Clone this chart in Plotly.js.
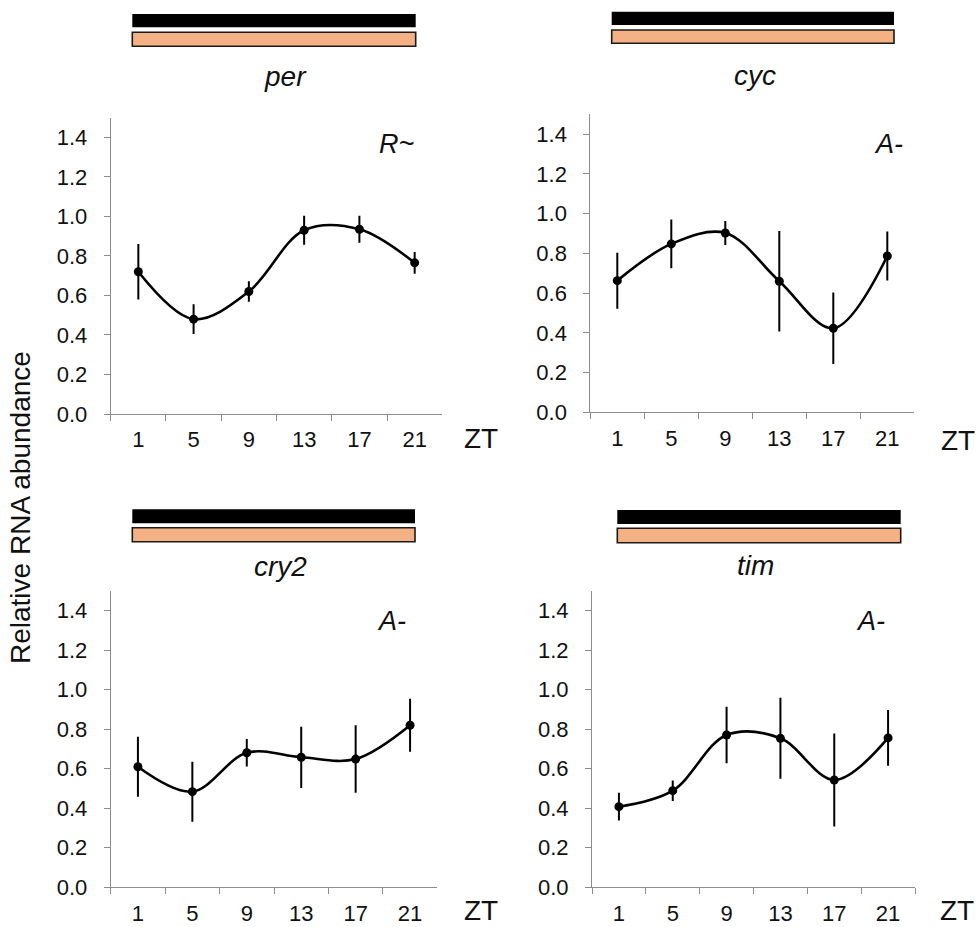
<!DOCTYPE html>
<html>
<head>
<meta charset="utf-8">
<script src="https://cdn.plot.ly/plotly-3.0.1.min.js"></script>
<style>html,body{margin:0;padding:0;background:#fff;}#chart{width:977px;height:927px;}</style>
</head>
<body>
<div id="chart"></div>
<script>
// ---- data ----
const ztLabels = ["1", "5", "9", "13", "17", "21"];
const genes = ["per", "cyc", "cry2", "tim"];
const rhythmCodes = ["R~", "A-", "A-", "A-"];

const perMean = [0.72, 0.48, 0.62, 0.93, 0.935, 0.765];
const perErr  = [0.14, 0.075, 0.052, 0.073, 0.068, 0.055];
const cycMean = [0.663, 0.848, 0.903, 0.66, 0.423, 0.787];
const cycErr  = [0.141, 0.123, 0.06, 0.253, 0.18, 0.123];
const cry2Mean = [0.61, 0.484, 0.681, 0.658, 0.649, 0.82];
const cry2Err  = [0.152, 0.152, 0.07, 0.155, 0.171, 0.134];
const timMean = [0.408, 0.489, 0.771, 0.754, 0.543, 0.756];
const timErr  = [0.07, 0.052, 0.143, 0.205, 0.235, 0.141];

const yTickVals = [0, 0.2, 0.4, 0.6, 0.8, 1.0, 1.2, 1.4];
const yTickText = ["0.0", "0.2", "0.4", "0.6", "0.8", "1.0", "1.2", "1.4"];
const yTitle = "Relative RNA abundance";
const xUnit = "ZT";

// ---- layout helpers (pixel geometry) ----
const W = 977, H = 927;
const px = x => x / W;
const py = y => 1 - y / H;

const means = [perMean, cycMean, cry2Mean, timMean];
const errs = [perErr, cycErr, cry2Err, timErr];

// plot areas [x0,x1,yBottom,yTop] in pixels
const areas = [
  [110.7, 442.3, 414.0, 117.6],
  [590.3, 914.3, 412.3, 114.4],
  [110.7, 437.3, 887.3, 590.9],
  [592.0, 915.0, 887.3, 590.9]
];
// bar geometry: [x0,x1, blackTop, blackBot, orangeTop, orangeBot]
const bars = [
  [132.3, 415.7, 14.0, 27.3, 32.3, 46.3],
  [611.7, 894.0, 11.7, 25.0, 30.0, 43.3],
  [132.3, 415.0, 509.3, 523.3, 527.7, 541.7],
  [617.3, 900.7, 510.0, 524.0, 528.3, 542.7]
];
const geneLabelPos = [[285, 76], [755, 75], [280, 566], [755, 565]];
const codePos = [[396, 144], [888, 144], [391, 621], [870, 621]];
const ztPos = [[462, 439], [939, 440], [462, 910], [938, 910]];

const font = "Liberation Sans, Arial, sans-serif";
const traces = [];
const layout = {
  width: W, height: H,
  margin: {l: 0, r: 0, t: 0, b: 0},
  paper_bgcolor: "#fff", plot_bgcolor: "#fff",
  showlegend: false,
  font: {family: font, color: "#1a1a1a"},
  shapes: [], annotations: []
};

for (let i = 0; i < 4; i++) {
  const sfx = i === 0 ? "" : String(i + 1);
  traces.push({
    type: "scatter", mode: "lines+markers",
    x: ztLabels, y: means[i],
    xaxis: "x" + sfx, yaxis: "y" + sfx,
    line: {color: "#000", width: 2.6, shape: "spline", smoothing: 1},
    marker: {color: "#000", size: 9},
    error_y: {type: "data", array: errs[i], visible: true, color: "#000", thickness: 2, width: 0},
    cliponaxis: false, hoverinfo: "skip"
  });
  const a = areas[i];
  layout["xaxis" + sfx] = {
    domain: [px(a[0]), px(a[1])],
    anchor: "y" + sfx,
    type: "category",
    range: [-0.5, 5.5],
    tickson: "boundaries",
    ticks: "outside", ticklen: 6, tickcolor: "#8c8c8c", tickwidth: 1,
    showline: true, linecolor: "#8c8c8c", linewidth: 1,
    showgrid: false, zeroline: false,
    tickfont: {size: 22, color: "#111", family: font},
    ticklabelstandoff: 6,
    fixedrange: true
  };
  layout["yaxis" + sfx] = {
    domain: [py(a[2]), py(a[3])],
    anchor: "x" + sfx,
    range: [0, 1.5],
    tickvals: yTickVals, ticktext: yTickText,
    ticks: "outside", ticklen: 6, tickcolor: "#8c8c8c", tickwidth: 1,
    showline: true, linecolor: "#8c8c8c", linewidth: 1,
    showgrid: false, zeroline: false,
    tickfont: {size: 22, color: "#111", family: font},
    ticklabelstandoff: 12,
    fixedrange: true
  };
  const b = bars[i];
  layout.shapes.push({type: "rect", xref: "paper", yref: "paper",
    x0: px(b[0]), x1: px(b[1]), y0: py(b[3]), y1: py(b[2]),
    fillcolor: "#000", line: {color: "#000", width: 0}});
  layout.shapes.push({type: "rect", xref: "paper", yref: "paper",
    x0: px(b[0]), x1: px(b[1]), y0: py(b[5]), y1: py(b[4]),
    fillcolor: "#F4B183", line: {color: "#1a1a1a", width: 1.6}});
  layout.annotations.push({xref: "paper", yref: "paper",
    x: px(geneLabelPos[i][0]), y: py(geneLabelPos[i][1]),
    xanchor: "center", yanchor: "middle", showarrow: false,
    text: "<i>" + genes[i] + "</i>",
    font: {size: 28, family: font, color: "#111"}});
  layout.annotations.push({xref: "paper", yref: "paper",
    x: px(codePos[i][0]), y: py(codePos[i][1]),
    xanchor: "center", yanchor: "middle", showarrow: false,
    text: "<i>" + rhythmCodes[i] + "</i>",
    font: {size: 27, family: font, color: "#111"}});
  layout.annotations.push({xref: "paper", yref: "paper",
    x: px(ztPos[i][0]), y: py(ztPos[i][1]),
    xanchor: "left", yanchor: "middle", showarrow: false,
    text: xUnit,
    font: {size: 28, family: font, color: "#111"}});
}
layout.annotations.push({xref: "paper", yref: "paper",
  x: px(21), y: py(508), xanchor: "center", yanchor: "middle",
  showarrow: false, textangle: -90, text: yTitle,
  font: {size: 28, family: font, color: "#111"}});

Plotly.newPlot("chart", traces, layout, {staticPlot: true, displayModeBar: false});
</script>
</body>
</html>
